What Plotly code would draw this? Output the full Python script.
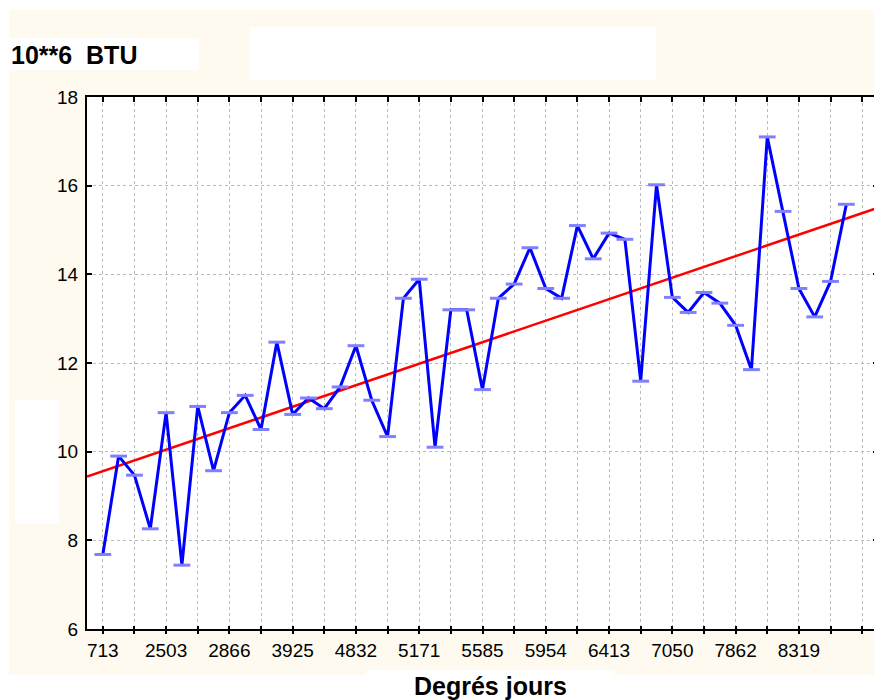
import numpy as np
import plotly.graph_objects as go

# ---- data ----
tick_labels = ["713", "2503", "2866", "3925", "4832", "5171",
               "5585", "5954", "6413", "7050", "7862", "8319"]
btu_values = [7.68, 9.90, 9.47, 8.26, 10.88, 7.44, 11.02, 9.57, 10.88, 11.27,
              10.50, 12.47, 10.84, 11.21, 10.97, 11.46, 12.39, 11.16, 10.34, 13.46,
              13.89, 10.10, 13.20, 13.20, 11.40, 13.46, 13.78, 14.60, 13.68, 13.46,
              15.10, 14.35, 14.93, 14.79, 11.59, 16.02, 13.48, 13.14, 13.59, 13.35,
              12.85, 11.85, 17.10, 15.42, 13.68, 13.04, 13.84, 15.58]
y_ticks = [6, 8, 10, 12, 14, 16, 18]

n = len(btu_values)
idx = np.arange(n)
x_min, x_max = -1, n + 1
slope, intercept = np.polyfit(idx, btu_values, 1)
trend_x = np.array([x_min, x_max])
trend_y = intercept + slope * trend_x

tick_pos = list(range(0, n + 1, 2))
tick_text = []
for p in tick_pos:
    if p % 4 == 0 and p // 4 < len(tick_labels):
        tick_text.append(tick_labels[p // 4])
    else:
        tick_text.append("")

FONT = "Liberation Sans, Arial, sans-serif"
CREAM = "#FEFAEF"

# ---- geometry (pixels in the 882x700 page; the page body has an 8px margin) ----
OFF = 8
PAGE_W, PAGE_H = 882, 700
W, H = PAGE_W - OFF, PAGE_H - OFF
# plot area in page pixels: x 87..880, y 97..629
L = 87 - OFF
R = W - (880 - OFF)
T = 97 - OFF
B = H - (629 - OFF)
pw, ph = W - L - R, H - T - B


def px(xp):
    return (xp - OFF - L) / pw


def py(yp):
    return (H - B - (yp - OFF)) / ph


fig = go.Figure()
fig.add_trace(go.Scatter(
    x=trend_x, y=trend_y, mode="lines",
    line=dict(color="#FF0000", width=2.5), showlegend=False, hoverinfo="skip"))
fig.add_trace(go.Scatter(
    x=idx, y=btu_values, mode="lines+markers",
    line=dict(color="#0000FF", width=3),
    marker=dict(symbol="line-ew", size=12, color="#8080FF",
                line=dict(color="#8080FF", width=3)),
    showlegend=False))
# dummy traces to activate the extra tick axes
fig.add_trace(go.Scatter(x=[None], y=[None], xaxis="x2", yaxis="y",
                         showlegend=False, hoverinfo="skip"))
fig.add_trace(go.Scatter(x=[None], y=[None], xaxis="x3", yaxis="y",
                         showlegend=False, hoverinfo="skip"))

shapes = []


def rect(x0, y0, x1, y1, color):
    shapes.append(dict(type="rect", xref="paper", yref="paper",
                       x0=px(x0), x1=px(x1), y0=py(y0), y1=py(y1),
                       fillcolor=color, line=dict(width=0), layer="below"))


# white strips outside the cream frame
rect(0, 0, PAGE_W + 5, 10, "white")
rect(0, 0, 9, PAGE_H + 5, "white")
rect(0, 675, PAGE_W + 5, PAGE_H + 5, "white")
# white boxes
rect(9, 38, 199, 70, "white")
rect(250, 27, 657, 80, "white")
rect(15, 400, 59, 524, "white")
rect(367, 670, 616, PAGE_H + 5, "white")

tick_common = dict(range=[x_min, x_max], tickmode="array", tickvals=tick_pos,
                   tickwidth=2, tickcolor="black", zeroline=False)

fig.update_layout(
    width=W, height=H,
    margin=dict(l=L, r=R, t=T, b=B),
    paper_bgcolor=CREAM, plot_bgcolor="white",
    font=dict(family=FONT, size=19, color="black"),
    hovermode=False,
    shapes=shapes,
    xaxis=dict(**tick_common, ticktext=tick_text, ticks="outside", ticklen=3,
               showline=True, linewidth=2, linecolor="black",
               mirror=True, showgrid=True, gridcolor="#BBBBBB", gridwidth=1,
               griddash="dot", tickangle=0, tickfont=dict(size=19)),
    xaxis2=dict(**tick_common, overlaying="x", side="top", ticks="inside",
                ticklen=5, showticklabels=False, showgrid=False, showline=False),
    xaxis3=dict(**tick_common, overlaying="x", side="bottom", ticks="inside",
                ticklen=3, showticklabels=False, showgrid=False, showline=False),
    yaxis=dict(range=[6, 18], tickmode="array", tickvals=y_ticks,
               ticks="inside", ticklen=5, tickwidth=2, tickcolor="black",
               showline=True, linewidth=2, linecolor="black", mirror="ticks",
               showgrid=True, gridcolor="#BBBBBB", gridwidth=1, griddash="dot",
               zeroline=False, tickfont=dict(size=19), ticklabelstandoff=3),
    annotations=[
        dict(text="<b>10**6\u00a0\u00a0BTU</b>", xref="paper", yref="paper",
             x=px(9), y=py(55), xanchor="left", yanchor="middle",
             showarrow=False, font=dict(size=25, family=FONT)),
        dict(text="<b>Degrés jours</b>", xref="paper", yref="paper",
             x=px(492), y=py(686), xanchor="center", yanchor="middle",
             showarrow=False, font=dict(size=25, family=FONT)),
    ],
)

fig.write_html("out.html")
